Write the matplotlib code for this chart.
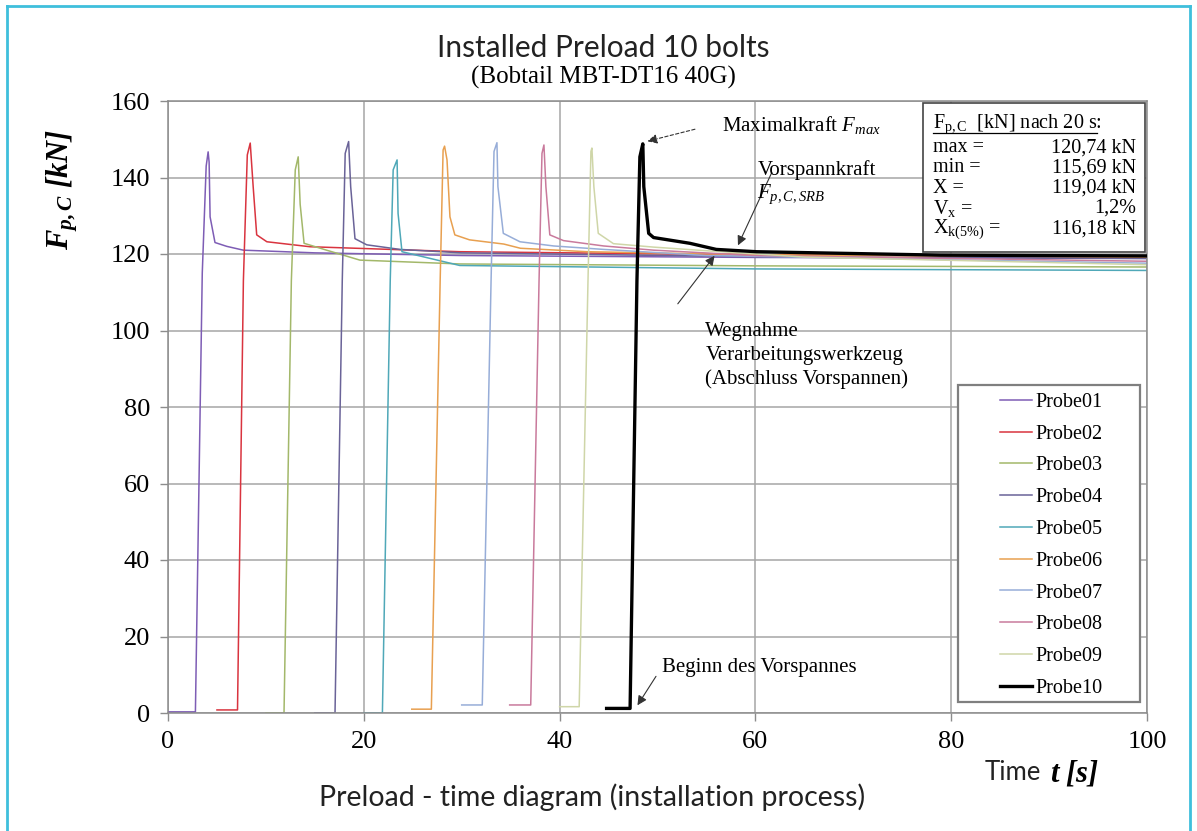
import matplotlib
matplotlib.use("Agg")
import matplotlib.pyplot as plt
from matplotlib.lines import Line2D
from matplotlib.patches import Rectangle

plt.rcParams['mathtext.fontset'] = 'custom'
plt.rcParams['mathtext.rm'] = 'Liberation Serif'
plt.rcParams['mathtext.it'] = 'Liberation Serif:italic'
plt.rcParams['mathtext.bf'] = 'Liberation Serif:italic:bold'

SERIF = 'Liberation Serif'
SANS = 'Lato'

# preload curves (time in s, force in kN)
t01 = [0.0, 2.8, 3.5, 3.9, 4.1, 4.2, 4.3, 4.8, 6.0, 7.7, 15, 30, 60, 100]
f01 = [0.3, 0.3, 115, 143, 146.7, 144, 129.7, 123, 122, 121, 120.3, 119.6, 119.1, 118.9]
t02 = [5.0, 7.1, 7.7, 8.1, 8.4, 8.7, 9.06, 10.1, 14.5, 29.8, 60, 100]
f02 = [0.8, 0.8, 113, 145.9, 149, 137.6, 125, 123.2, 121.9, 120.6, 119.8, 119.3]
t03 = [10.0, 11.85, 12.6, 13.0, 13.3, 13.5, 13.9, 16.2, 19.6, 29.8, 60, 100]
f03 = [0.0, 0.0, 113, 142, 145.4, 133, 122.8, 121, 118.4, 117.4, 116.9, 116.6]
t04 = [15.0, 17.06, 17.8, 18.1, 18.45, 18.66, 19.1, 20.3, 23.7, 30, 60, 100]
f04 = [0.0, 0.0, 113, 146.3, 149.4, 137.6, 124, 122.4, 121.2, 120.3, 119.3, 118.8]
t05 = [20.0, 21.9, 22.7, 23.0, 23.4, 23.5, 23.9, 29.8, 60, 100]
f05 = [0.0, 0.0, 113, 142, 144.6, 130.6, 120.6, 117.0, 116.1, 115.7]
t06 = [24.9, 26.9, 27.8, 28.1, 28.25, 28.5, 28.8, 29.3, 30.8, 34.3, 36, 42.8, 60, 100]
f06 = [1.0, 1.0, 113, 147.2, 148.2, 144.6, 129.7, 125, 123.7, 122.6, 121.5, 120.6, 119.8, 119.2]
t07 = [30.0, 32.1, 33.0, 33.3, 33.6, 33.7, 34.25, 35.95, 39.4, 44.5, 55, 100]
f07 = [2.1, 2.1, 113, 146.8, 149.1, 137.6, 125.4, 123.2, 122.1, 121.2, 119.6, 117.6]
t08 = [34.9, 37.05, 37.9, 38.2, 38.4, 38.6, 39.0, 40.4, 44.5, 49.6, 60, 100]
f08 = [2.1, 2.1, 113, 146.3, 148.5, 137.6, 125, 123.5, 122.1, 121, 119.6, 118.1]
t09 = [40.0, 42.0, 42.9, 43.2, 43.3, 43.5, 43.95, 45.5, 49.6, 54.7, 65, 100]
f09 = [1.65, 1.65, 113, 146.8, 147.7, 137.6, 125.4, 122.7, 121.8, 120.9, 119.2, 117.2]
t10 = [44.8, 47.2, 47.9, 48.2, 48.5, 48.6, 49.1, 49.6, 53.3, 56.0, 60.1, 78.9, 100]
f10 = [1.2, 1.2, 113, 145.4, 148.8, 137.6, 125.4, 124.3, 122.8, 121.2, 120.6, 119.7, 119.5]

probe_t = [t01, t02, t03, t04, t05, t06, t07, t08, t09, t10]
probe_f = [f01, f02, f03, f04, f05, f06, f07, f08, f09, f10]
probe_names = ['Probe01', 'Probe02', 'Probe03', 'Probe04', 'Probe05',
               'Probe06', 'Probe07', 'Probe08', 'Probe09', 'Probe10']
probe_colors = ['#7e5db5', '#d9343f', '#a3b86a', '#6a6398', '#4fa8b8',
                '#e8a050', '#97add8', '#c97a9c', '#cfd6a8', '#000000']

stat_labels = ['max =', 'min =', 'X =', r'V$_{\mathregular{x}}$ =', r'X$_{\mathregular{k(5\%)}}$ =']
stat_values = ['120,74 kN', '115,69 kN', '119,04 kN', '1,2%', '116,18 kN']

x_ticks = [0, 20, 40, 60, 80, 100]
y_ticks = [0, 20, 40, 60, 80, 100, 120, 140, 160]

fig = plt.figure(figsize=(11.97, 8.31), dpi=100)
ax = fig.add_axes([168 / 1197, 1 - 713 / 831, 979 / 1197, 612 / 831])

for t, f, name, c in zip(probe_t, probe_f, probe_names, probe_colors):
    lw = 2.4 if name == 'Probe10' else 1.1
    ax.plot(t, f, color=c, lw=lw, label=name, zorder=3 if name == 'Probe10' else 2)

ax.set_xlim(0, 100)
ax.set_ylim(0, 160)
ax.set_xticks(x_ticks)
ax.set_yticks(y_ticks)
ax.grid(True, color='#a6a6a6', lw=1.1, zorder=0)
for s in ax.spines.values():
    s.set_color('#8c8c8c')
    s.set_linewidth(1.1)
ax.tick_params(direction='out', length=6, width=1.0, color='#8c8c8c',
               labelsize=19, pad=7)
for lab in ax.get_xticklabels() + ax.get_yticklabels():
    lab.set_fontfamily(SERIF)

# titles and axis texts
fig.text(0.504, 1 - 48 / 831, 'Installed Preload 10 bolts', family=SANS,
         fontsize=21.5, ha='center', va='center', color='#222222')
fig.text(0.504, 1 - 77 / 831, '(Bobtail MBT-DT16 40G)', family=SERIF,
         fontsize=18, ha='center', va='center')
fig.text(62 / 1197, 1 - 190 / 831, r'$\mathbf{F_{p,C}\ [kN]}$', fontsize=22,
         rotation=90, ha='center', va='center')
fig.text(1041 / 1197, 1 - 773 / 831, 'Time', family=SANS, fontsize=18.5,
         ha='right', va='center', color='#222222')
fig.text(1050 / 1197, 1 - 773 / 831, r'$\mathbf{t\ [s]}$', fontsize=22,
         ha='left', va='center')
fig.text(592 / 1197, 1 - 797 / 831, 'Preload - time diagram (installation process)',
         family=SANS, fontsize=20.5, ha='center', va='center', color='#222222')

# cyan frame round the picture
for xy in ([(7 / 1197, 7 / 1197), (0, 1 - 6 / 831)],
           [(7 / 1197, 1190 / 1197), (1 - 6 / 831, 1 - 6 / 831)],
           [(1190 / 1197, 1190 / 1197), (0, 1 - 6 / 831)]):
    fig.add_artist(Line2D(xy[0], xy[1], color='#3fbfdc', lw=2.0))

# stats box
ax.add_patch(Rectangle((77.1, 120.6), 22.7, 38.8, facecolor='white',
                       edgecolor='#444444', lw=1.2, zorder=4))
ax.text(78.1, 153.9, r'F$_{\mathregular{p,C}}$  [kN] nach 20 s:', family=SERIF,
        fontsize=14.5, va='center', zorder=5)
ax.plot([78.1, 94.9], [151.6, 151.6], color='black', lw=0.9, zorder=5)
for i, (lab, val) in enumerate(zip(stat_labels, stat_values)):
    y = 147.8 - i * 5.3
    ax.text(78.1, y, lab, family=SERIF, fontsize=14.5, va='center', zorder=5)
    ax.text(98.9, y, val, family=SERIF, fontsize=14.5, va='center', ha='right', zorder=5)

# legend
ax.add_patch(Rectangle((80.7, 2.9), 18.6, 82.9, facecolor='white',
                       edgecolor='#7f7f7f', lw=1.6, zorder=4))
leg = ax.legend(loc='center right', bbox_to_anchor=(0.973, 0.274), frameon=False,
                prop={'family': SERIF, 'size': 14.5}, handlelength=1.6,
                handletextpad=0.15, labelspacing=0.63)
leg.set_zorder(5)

# annotations
arrow = dict(arrowstyle='-|>', color='#333333', lw=0.8, mutation_scale=14)
ax.annotate('', xy=(48.7, 149.3), xytext=(54.1, 152.8),
            arrowprops=dict(arrow, linestyle=(0, (3, 2))))
ax.text(56.6, 153.7, r'Maximalkraft $F_{max}$', family=SERIF, fontsize=15, va='center')
ax.annotate('', xy=(58.1, 121.6), xytext=(61.8, 142.0), arrowprops=arrow)
ax.text(60.2, 142.0, 'Vorspannkraft', family=SERIF, fontsize=15, va='center')
ax.text(60.2, 135.6, r'$F_{p,C,SRB}$', family=SERIF, fontsize=15, va='center')
ax.annotate('', xy=(56.0, 120.1), xytext=(51.9, 106.4), arrowprops=arrow)
ax.text(54.9, 93.4, 'Wegnahme\nVerarbeitungswerkzeug\n(Abschluss Vorspannen)',
        family=SERIF, fontsize=15, va='center', linespacing=1.32)
ax.annotate('', xy=(47.8, 1.4), xytext=(50.0, 10.2), arrowprops=arrow)
ax.text(50.5, 11.8, 'Beginn des Vorspannes', family=SERIF, fontsize=15, va='center')

fig.savefig('out.png', dpi=100)
